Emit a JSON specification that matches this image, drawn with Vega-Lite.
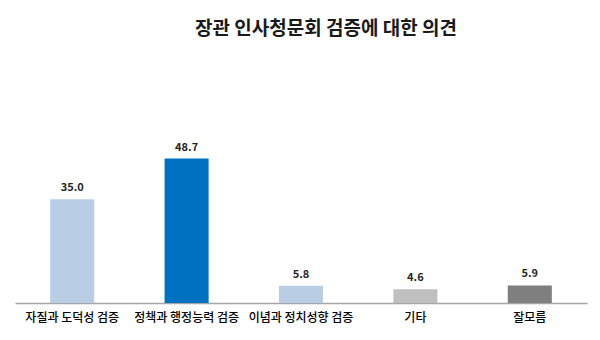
{
  "$schema": "https://vega.github.io/schema/vega-lite/v6.json",
  "width": 572,
  "height": 178,
  "autosize": {"type": "none"},
  "padding": {"left": 15, "top": 125, "right": 13, "bottom": 37},
  "background": "white",
  "title": {
    "text": "장관 인사청문회 검증에 대한 의견",
    "font": "Noto Sans CJK KR",
    "fontSize": 19,
    "fontWeight": "bold",
    "color": "#1a1a1a",
    "anchor": "middle",
    "dx": 25,
    "offset": 86
  },
  "data": {
    "values": [
      {"category": "자질과 도덕성 검증", "value": 35.0, "group": "a"},
      {"category": "정책과 행정능력 검증", "value": 48.7, "group": "b"},
      {"category": "이념과 정치성향 검증", "value": 5.8, "group": "a"},
      {"category": "기타", "value": 4.6, "group": "c"},
      {"category": "잘모름", "value": 5.9, "group": "d"}
    ]
  },
  "encoding": {
    "x": {
      "field": "category",
      "type": "nominal",
      "sort": null,
      "scale": {"paddingInner": 0.615, "paddingOuter": 0.3075},
      "axis": {
        "title": null,
        "labelAngle": 0,
        "ticks": false,
        "labelPadding": 9,
        "labelFont": "Noto Sans CJK KR",
        "labelFontSize": 12,
        "labelFontWeight": 500,
        "labelColor": "#000000",
        "domainColor": "#a6a6a6",
        "domainWidth": 1.5
      }
    },
    "y": {
      "field": "value",
      "type": "quantitative",
      "scale": {"domain": [0, 60]},
      "axis": null
    }
  },
  "layer": [
    {
      "mark": {"type": "bar"},
      "encoding": {
        "color": {
          "field": "group",
          "type": "nominal",
          "scale": {"domain": ["a", "b", "c", "d"], "range": ["#b9cde5", "#0070c0", "#bfbfbf", "#7f7f7f"]},
          "legend": null
        }
      }
    },
    {
      "mark": {"type": "text", "dy": -11, "font": "Noto Sans CJK KR", "fontSize": 11, "fontWeight": "bold", "color": "#262626"},
      "encoding": {
        "text": {"field": "value", "type": "quantitative", "format": ".1f"}
      }
    }
  ],
  "config": {"view": {"stroke": null}}
}
